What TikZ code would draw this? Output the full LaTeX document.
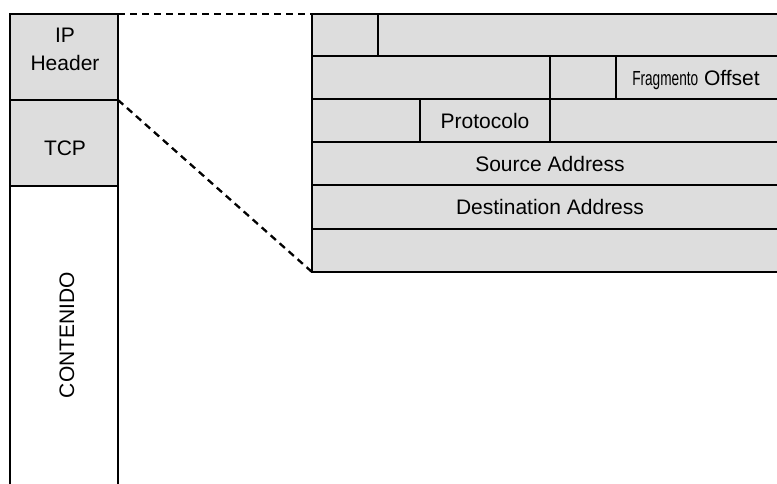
\documentclass[tikz,border=0pt]{standalone}
\usepackage{fontspec}
\usepackage{graphicx}
\setmainfont{Liberation Sans}
\definecolor{cellgray}{RGB}{221,221,221}
\begin{document}
\begin{tikzpicture}[x=1pt,y=-1pt,
  cell/.style={draw=black, fill=cellgray, line width=2.3pt, inner sep=0pt, outer sep=0pt, rectangle,
               text height=15pt, text depth=0pt, font=\fontsize{21}{24}\selectfont},
  lbl/.style={inner sep=0pt, outer sep=0pt, text height=15pt, text depth=0pt, font=\fontsize{21}{24}\selectfont},
  zoomline/.style={draw=black, line width=2.3pt, dash pattern=on 7pt off 5pt}]
\useasboundingbox (0,0) rectangle (777,483);
\clip (0,0) rectangle (777,483);
% left column
\node[cell, minimum width=108pt, minimum height=86pt] (iph) at (64,57) {};
\node[cell, minimum width=108pt, minimum height=86pt] (tcp) at (64,143) {};
\node[cell, fill=white, minimum width=108pt, minimum height=314pt] (cont) at (64,343) {};
\node[lbl] (iptxt) at (65,35) {IP};
\node[lbl] (hdtxt) at (65,63) {Header};
\node[lbl] (tcptxt) at (65,148) {TCP};
\node[lbl, rotate=90] (conttxt) at (66.5,335) {CONTENIDO};
% right table (IP header detail)
\node[cell, minimum width=66pt, minimum height=42pt] (r1a) at (345,35) {};
\node[cell, minimum width=410pt, minimum height=42pt] (r1b) at (583,35) {};
\node[cell, minimum width=238pt, minimum height=43pt] (r2a) at (431,77.5) {};
\node[cell, minimum width=66pt, minimum height=43pt] (r2b) at (583,77.5) {};
\node[cell, minimum width=172pt, minimum height=43pt] (r2c) at (702,77.5) {};
\node[lbl] (fotxt) at (696,77.5) {\scalebox{0.65}[0.97]{Fragmento} Offset};
\node[cell, minimum width=108pt, minimum height=43pt] (r3a) at (366,120.5) {};
\node[cell, minimum width=130pt, minimum height=43pt] (r3b) at (485,120.5) {Protocolo};
\node[cell, minimum width=238pt, minimum height=43pt] (r3c) at (669,120.5) {};
\node[cell, minimum width=476pt, minimum height=43pt] (r4) at (550,163.5) {Source Address};
\node[cell, minimum width=476pt, minimum height=44pt] (r5) at (550,207) {Destination Address};
\node[cell, minimum width=476pt, minimum height=43pt] (r6) at (550,250.5) {};
\node[draw=black, line width=2.3pt, inner sep=0pt, outer sep=0pt, minimum width=476pt, minimum height=258pt] (ipt) at (550,143) {};
% zoom connectors
\draw[zoomline] (iph.north east) -- (ipt.north west);
\draw[zoomline] (iph.south east) -- (ipt.south west);
\end{tikzpicture}
\end{document}
